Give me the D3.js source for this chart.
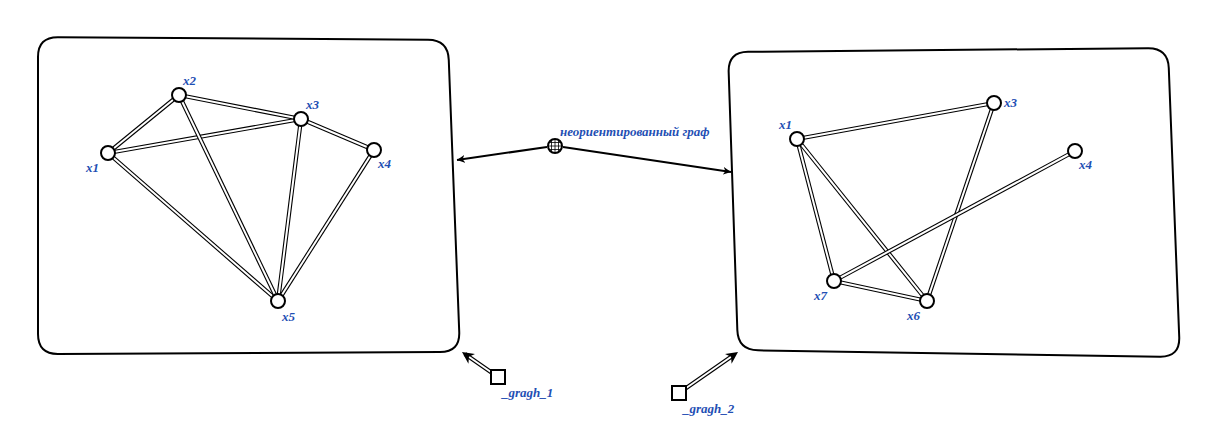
<!DOCTYPE html>
<html><head><meta charset="utf-8">
<script src="https://cdn.jsdelivr.net/npm/d3@7"></script>
<style>body{margin:0;background:#fff}</style></head>
<body><svg id="c" width="1221" height="448"></svg>
<script>
const leftNodes = [
  {id:"x1", x:108, y:153, lx:-22, ly:19},
  {id:"x2", x:179, y:95, lx:4, ly:-10},
  {id:"x3", x:301, y:119, lx:5, ly:-10},
  {id:"x4", x:374, y:150, lx:4, ly:18},
  {id:"x5", x:278, y:301, lx:4, ly:20}
];
const leftEdges = [["x1","x2"],["x1","x3"],["x2","x3"],["x1","x5"],["x2","x5"],["x3","x5"],["x3","x4"],["x4","x5"]];
const rightNodes = [
  {id:"x1", x:797, y:139, lx:-18, ly:-10},
  {id:"x3", x:994, y:103, lx:10, ly:4},
  {id:"x4", x:1075, y:151, lx:4, ly:18},
  {id:"x7", x:834, y:281, lx:-20, ly:19},
  {id:"x6", x:927, y:301, lx:-20, ly:19}
];
const rightEdges = [["x1","x3"],["x1","x7"],["x1","x6"],["x3","x6"],["x4","x7"],["x7","x6"]];
const boxes = [
  [[38,37],[448,40],[460,352],[38,354]],
  [[728,52],[1168,48],[1180,357],[738,350]]
];
const svg = d3.select("#c");
const blue = "#1f4fb4";
const font = "'Liberation Serif', 'DejaVu Serif', serif";

svg.append("defs").append("marker").attr("id","ar").attr("viewBox","0 0 10 10")
  .attr("refX",10).attr("refY",5).attr("markerWidth",8).attr("markerHeight",8)
  .attr("markerUnits","userSpaceOnUse").attr("orient","auto")
  .append("path").attr("d","M0,0 L10,5 L0,10 L3,5 Z").attr("fill","#000");
svg.select("defs").append("marker").attr("id","ar2").attr("viewBox","0 0 10 10")
  .attr("refX",10).attr("refY",5).attr("markerWidth",12).attr("markerHeight",12)
  .attr("markerUnits","userSpaceOnUse").attr("orient","auto")
  .append("path").attr("d","M0,0 L10,5 L0,10 L3,5 Z").attr("fill","#000");

function roundedPoly(pts, r) {
  const n = pts.length; let d = "";
  for (let i = 0; i < n; i++) {
    const p = pts[i], a = pts[(i+n-1)%n], b = pts[(i+1)%n];
    const ua = norm(a, p), ub = norm(b, p);
    const s = [p[0]+ua[0]*r, p[1]+ua[1]*r], e = [p[0]+ub[0]*r, p[1]+ub[1]*r];
    d += (i ? "L" : "M") + s + "Q" + p + " " + e;
  }
  return d + "Z";
}
function norm(a, p) { const dx=a[0]-p[0], dy=a[1]-p[1], l=Math.hypot(dx,dy); return [dx/l, dy/l]; }

boxes.forEach(b => svg.append("path").attr("d", roundedPoly(b, 20))
  .attr("fill","none").attr("stroke","#000").attr("stroke-width",2));

function doubleLine(x1,y1,x2,y2) {
  svg.append("line").attr("x1",x1).attr("y1",y1).attr("x2",x2).attr("y2",y2)
    .attr("stroke","#000").attr("stroke-width",4.2);
  svg.append("line").attr("x1",x1).attr("y1",y1).attr("x2",x2).attr("y2",y2)
    .attr("stroke","#fff").attr("stroke-width",2);
}

function drawGraph(nodes, edges) {
  const m = new Map(nodes.map(d => [d.id, d]));
  edges.forEach(([a,b]) => doubleLine(m.get(a).x, m.get(a).y, m.get(b).x, m.get(b).y));
  const g = svg.append("g").selectAll("g").data(nodes).join("g");
  g.append("circle").attr("cx",d=>d.x).attr("cy",d=>d.y).attr("r",7)
    .attr("fill","#fff").attr("stroke","#000").attr("stroke-width",2);
  g.append("text").attr("x",d=>d.x+d.lx).attr("y",d=>d.y+d.ly).text(d=>d.id)
    .attr("fill",blue).attr("font-family",font).attr("font-style","italic")
    .attr("font-weight","bold").attr("font-size",13);
}
drawGraph(leftNodes, leftEdges);
drawGraph(rightNodes, rightEdges);

// central node with arrows
const cx = 555, cy = 146;
svg.append("line").attr("x1",cx-8).attr("y1",cy+1).attr("x2",457).attr("y2",160)
  .attr("stroke","#000").attr("stroke-width",2).attr("marker-end","url(#ar)");
svg.append("line").attr("x1",cx+8).attr("y1",cy+1).attr("x2",731).attr("y2",172)
  .attr("stroke","#000").attr("stroke-width",2).attr("marker-end","url(#ar)");
svg.append("circle").attr("cx",cx).attr("cy",cy).attr("r",7).attr("fill","#fff")
  .attr("stroke","#000").attr("stroke-width",2);
[-3.5,0,3.5].forEach(o => {
  svg.append("line").attr("x1",cx-6).attr("x2",cx+6).attr("y1",cy+o).attr("y2",cy+o).attr("stroke","#000").attr("stroke-width",0.8);
  svg.append("line").attr("y1",cy-6).attr("y2",cy+6).attr("x1",cx+o).attr("x2",cx+o).attr("stroke","#000").attr("stroke-width",0.8);
});
svg.append("text").attr("x",560).attr("y",136).text("неориентированный граф")
  .attr("fill",blue).attr("font-family",font).attr("font-style","italic")
  .attr("font-weight","bold").attr("font-size",13);

// named squares
const tags = [
  {name:"_gragh_1", x:498, y:377, tx:462, ty:352},
  {name:"_gragh_2", x:679, y:393, tx:738, ty:352}
];
tags.forEach(t => {
  doubleLine(t.x, t.y, t.tx + (t.x-t.tx)*0.08, t.ty + (t.y-t.ty)*0.08);
  svg.append("path").attr("d",`M${t.tx+(t.x-t.tx)*0.2},${t.ty+(t.y-t.ty)*0.2}L${t.tx},${t.ty}`)
    .attr("stroke","none").attr("marker-end","url(#ar2)");
  svg.append("rect").attr("x",t.x-7).attr("y",t.y-7).attr("width",14).attr("height",14)
    .attr("fill","#fff").attr("stroke","#000").attr("stroke-width",2);
  svg.append("text").attr("x",t.x+4).attr("y",t.y+20).text(t.name)
    .attr("fill",blue).attr("font-family",font).attr("font-style","italic")
    .attr("font-weight","bold").attr("font-size",13);
});
</script></body></html>
